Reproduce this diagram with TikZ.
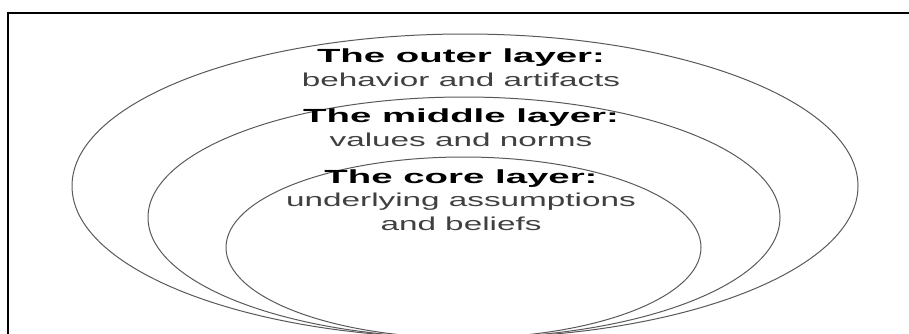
\documentclass[tikz,border=0pt]{standalone}
\usepackage{fontspec}
\setmainfont{Liberation Sans}
\begin{document}
\begin{tikzpicture}[x=1pt,y=1pt,
  couche/.style={line width=1pt, draw=black!65},
  titre/.style={font=\fontsize{19}{24}\selectfont\bfseries, anchor=base, inner sep=0pt, xscale=2.02, transform shape},
  descr/.style={font=\fontsize{18.7}{23.5}\selectfont, text=black!75, align=center, anchor=base, inner sep=0pt, xscale=1.78, transform shape},
  cadre/.style={line width=2pt, line cap=rect}]
\useasboundingbox (0,0) rectangle (909,333);
\clip (0,0) rectangle (909,333);

%% cadre ouvert (coupé à droite et en bas)
\draw[cadre] (7.5,-5) -- (7.5,320) -- (915,320);

%% ================= trois couches emboîtées ================================
\draw[couche] (465,147) ellipse [x radius=393pt, y radius=152pt];
\draw[couche] (464,115.5) ellipse [x radius=316pt, y radius=120.5pt];
\draw[couche] (463.5,85.5) ellipse [x radius=237.5pt, y radius=90.5pt];

%% ================= textes ==================================================
\node[titre] (titreExt) at (461,271) {The outer layer:};
\node[descr] (descrExt) at (461,247) {behavior and artifacts};

\node[titre] (titreMil) at (461,211) {The middle layer:};
\node[descr] (descrMil) at (461,187) {values and norms};

\node[titre] (titreNoyau) at (461,150) {The core layer:};
\node[descr] (descrNoyau) at (461,103) {underlying assumptions\\and beliefs};
\end{tikzpicture}
\end{document}
